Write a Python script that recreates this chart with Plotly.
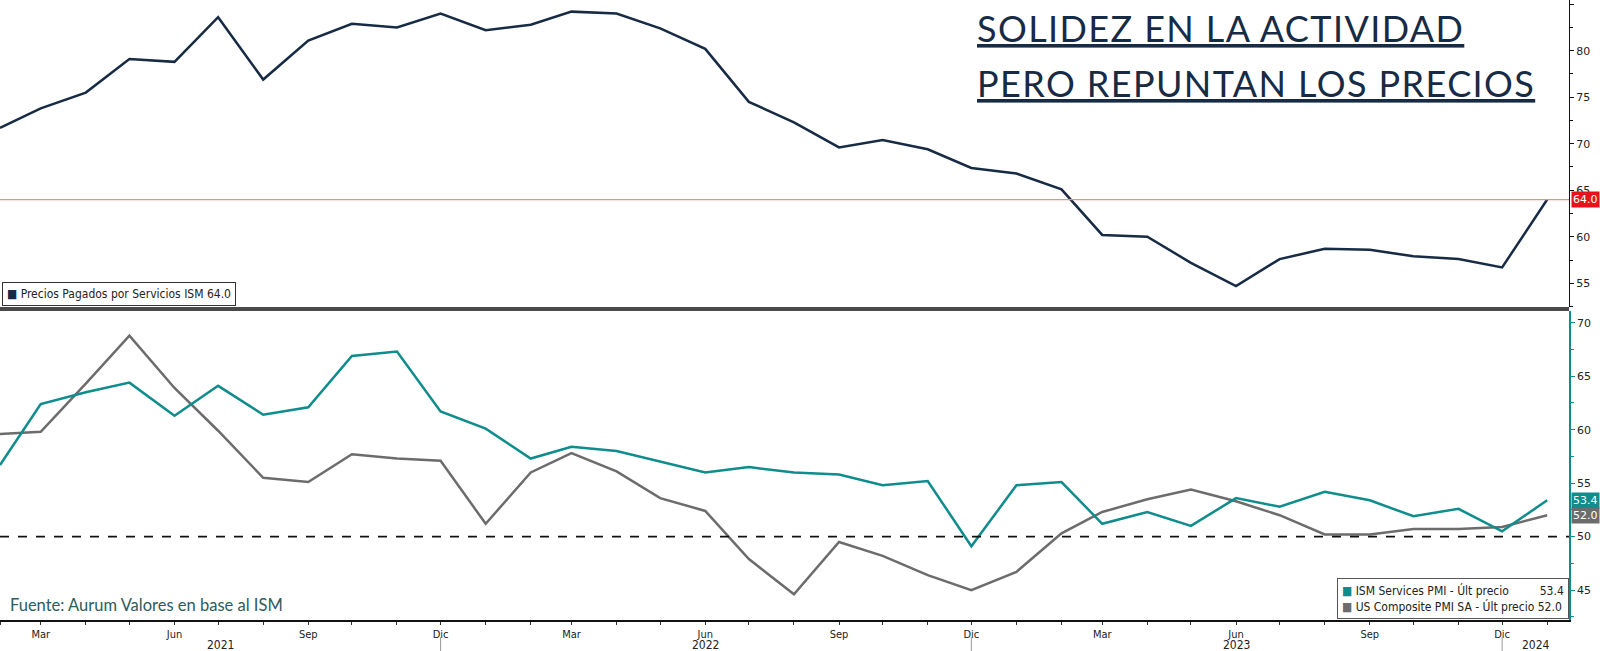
import plotly.graph_objects as go
import pandas as pd

# ---------------- data ----------------
months = pd.date_range("2021-02-01", "2024-01-01", freq="MS")

precios_pagados = [71.7, 73.8, 75.5, 79.1, 78.8, 83.6, 76.9, 81.1, 82.9, 82.5, 84.0,
                   82.2, 82.8, 84.2, 84.0, 82.4, 80.2, 74.5, 72.3, 69.6, 70.4, 69.4, 67.4,
                   66.8, 65.1, 60.2, 60.0, 57.2, 54.7, 57.6, 58.7, 58.6, 57.9, 57.6, 56.7,
                   64.0]

ism_services = [56.7, 62.4, 63.5, 64.4, 61.3, 64.1, 61.4, 62.1, 66.9, 67.3, 61.7,
                60.1, 57.3, 58.4, 58.0, 57.0, 56.0, 56.5, 56.0, 55.8, 54.8, 55.2, 49.1,
                54.8, 55.1, 51.2, 52.3, 51.0, 53.6, 52.8, 54.2, 53.4, 51.9, 52.6, 50.5,
                53.4]

us_composite = [59.6, 59.8, 64.3, 68.8, 63.9, 59.9, 55.5, 55.1, 57.7, 57.3, 57.1,
                51.2, 56.0, 57.8, 56.1, 53.6, 52.4, 47.9, 44.6, 49.5, 48.2, 46.4, 45.0,
                46.7, 50.3, 52.3, 53.5, 54.4, 53.3, 52.0, 50.2, 50.2, 50.7, 50.7, 50.9,
                52.0]

month_names = {3: "Mar", 6: "Jun", 9: "Sep", 12: "Dic"}
year_labels = ["2021", "2022", "2023", "2024"]

ref_precios = 64.0
ref_pmi = 50

title_lines = ["SOLIDEZ EN LA ACTIVIDAD", "PERO REPUNTAN LOS PRECIOS"]
source_text = "Fuente: Aurum Valores en base al ISM"

# ---------------- style ----------------
NAVY = "#172b45"
TEAL = "#0f8c8c"
GRAY = "#6c6c6c"
RED = "#e5141b"
LABEL_FONT = "Liberation Sans Narrow, DejaVu Sans Condensed, Arial Narrow, sans-serif"
TICK_FONT = "DejaVu Sans, Verdana, sans-serif"

W, H = 1600, 651
ML, MR, MT, MB = 0, 31, 0, 31
PH = H - MT - MB  # plot height in px


def py(px):
    """pixel y (from top of page) -> paper y"""
    return (PH - (px - MT)) / PH


x_start = months[0]
x_end = months[-1] + pd.Timedelta(days=15)

fig = go.Figure()

fig.add_trace(go.Scatter(x=months, y=precios_pagados, mode="lines", xaxis="x", yaxis="y",
                         line=dict(color=NAVY, width=2.5), name="Precios Pagados por Servicios ISM",
                         showlegend=False))
fig.add_trace(go.Scatter(x=months, y=us_composite, mode="lines", xaxis="x2", yaxis="y2",
                         line=dict(color=GRAY, width=2.5), name="US Composite PMI SA",
                         showlegend=False))
fig.add_trace(go.Scatter(x=months, y=ism_services, mode="lines", xaxis="x2", yaxis="y2",
                         line=dict(color=TEAL, width=2.5), name="ISM Services PMI",
                         showlegend=False))

tickvals = list(months)
ticktext = [month_names.get(m.month, "") for m in months]

fig.update_layout(
    width=W, height=H,
    margin=dict(l=ML, r=MR, t=MT, b=MB),
    paper_bgcolor="white", plot_bgcolor="white",
    xaxis=dict(domain=[0, 1], anchor="y", range=[x_start, x_end], showticklabels=False,
               showgrid=False, zeroline=False, showline=False, ticks="", matches="x2"),
    xaxis2=dict(domain=[0, 1], anchor="y2", range=[x_start, x_end], showgrid=False,
                zeroline=False, showline=True, linecolor="#111", linewidth=1.5,
                tickmode="array", tickvals=tickvals, ticktext=ticktext,
                ticks="outside", ticklen=3, tickcolor="#333", tickwidth=1,
                ticklabelstandoff=0,
                tickfont=dict(family=LABEL_FONT, size=11, color="#222")),
    yaxis=dict(domain=[py(307), 1], anchor="x", side="right", range=[52.45, 85.45],
               tickvals=[55, 60, 65, 70, 75, 80, 85], showgrid=False, zeroline=False,
               showline=True, linecolor="#111", linewidth=1,
               ticks="outside", ticklen=4, tickcolor="#111",
               minor=dict(dtick=2.5, tick0=0, ticks="outside", ticklen=3, tickcolor="#111"),
               tickfont=dict(family=TICK_FONT, size=11, color="#222")),
    yaxis2=dict(domain=[0, py(311)], anchor="x2", side="right", range=[42.2, 71.1],
                tickvals=[45, 50, 55, 60, 65, 70], showgrid=False, zeroline=False,
                showline=True, linecolor=TEAL, linewidth=1.5,
                ticks="outside", ticklen=4, tickcolor=TEAL,
                minor=dict(dtick=2.5, tick0=0, ticks="outside", ticklen=3, tickcolor=TEAL),
                tickfont=dict(family=TICK_FONT, size=11, color="#222")),
)

shapes = []
# separator band between panels
shapes.append(dict(type="rect", xref="paper", yref="paper", x0=0, x1=1, y0=py(311), y1=py(307),
                   fillcolor="#4a4a4a", line=dict(width=0), layer="above"))
# reference lines
shapes.append(dict(type="line", xref="paper", yref="y", x0=0, x1=1, y0=ref_precios, y1=ref_precios,
                   line=dict(color="#ee8a8a", width=1.3)))
shapes.append(dict(type="line", xref="paper", yref="y2", x0=0, x1=1, y0=ref_pmi, y1=ref_pmi,
                   line=dict(color="#111", width=1.6, dash="dash")))
# year separators
dec_dates = [m for m in months if m.month == 12]
for d in dec_dates:
    shapes.append(dict(type="line", xref="x2", yref="paper", x0=d, x1=d, y0=py(637), y1=py(651),
                       line=dict(color="#999", width=1)))
fig.update_layout(shapes=shapes)

annotations = []
# year labels centred on each visible year segment
bounds = [x_start] + dec_dates + [x_end]
for i, yl in enumerate(year_labels):
    a, b = bounds[i], bounds[i + 1]
    mid = a + (b - a) / 2
    annotations.append(dict(xref="x2", yref="paper", x=mid, y=py(645), text=yl, showarrow=False,
                            font=dict(family=LABEL_FONT, size=12, color="#222"),
                            xanchor="center", yanchor="middle"))

# last value tags
for val, yref, col in [(precios_pagados[-1], "y", RED), (ism_services[-1], "y2", TEAL),
                       (us_composite[-1], "y2", GRAY)]:
    annotations.append(dict(xref="paper", yref=yref, x=1, y=val, xanchor="left", yanchor="middle",
                            xshift=2, text=f"{val:.1f}", showarrow=False, bgcolor=col,
                            borderpad=1, font=dict(family=TICK_FONT, size=11, color="white")))

# legend boxes
annotations.append(dict(
    xref="paper", yref="paper", x=0.0012, y=py(306), xanchor="left", yanchor="bottom",
    text=f"<span style='color:{NAVY}'>■</span> Precios Pagados por Servicios ISM {precios_pagados[-1]:.1f}",
    showarrow=False, bgcolor="white", bordercolor="#333", borderwidth=1, borderpad=4,
    font=dict(family=LABEL_FONT, size=12, color="#222"), align="left"))

nb = "\u00a0"
annotations.append(dict(
    xref="paper", yref="paper", x=1, y=py(619), xanchor="right", yanchor="bottom",
    text=(f"<span style='color:{TEAL}'>■</span> ISM Services PMI - Últ precio{nb * 9}{ism_services[-1]:.1f}<br>"
          f"<span style='color:{GRAY}'>■</span> US Composite PMI SA - Últ precio {us_composite[-1]:.1f}"),
    showarrow=False, bgcolor="white", bordercolor="#555", borderwidth=1, borderpad=4,
    font=dict(family=LABEL_FONT, size=12, color="#222"), align="left"))

# title
for txt, ymid in [(title_lines[0], 28), (title_lines[1], 83)]:
    annotations.append(dict(xref="paper", yref="paper", x=975 / (W - MR), y=py(ymid), xanchor="left",
                            yanchor="middle",
                            text=f"<span style='letter-spacing:1.4px'><u>{txt}</u></span>",
                            showarrow=False,
                            font=dict(family="Lato, sans-serif", size=36, color=NAVY)))

# source
annotations.append(dict(xref="paper", yref="paper", x=8 / (W - MR), y=py(605), xanchor="left",
                        yanchor="middle", text=source_text, showarrow=False,
                        font=dict(family="Lato, sans-serif", size=16.5, color="#2d5c5c")))

fig.update_layout(annotations=annotations)

fig.write_html("out.html")
